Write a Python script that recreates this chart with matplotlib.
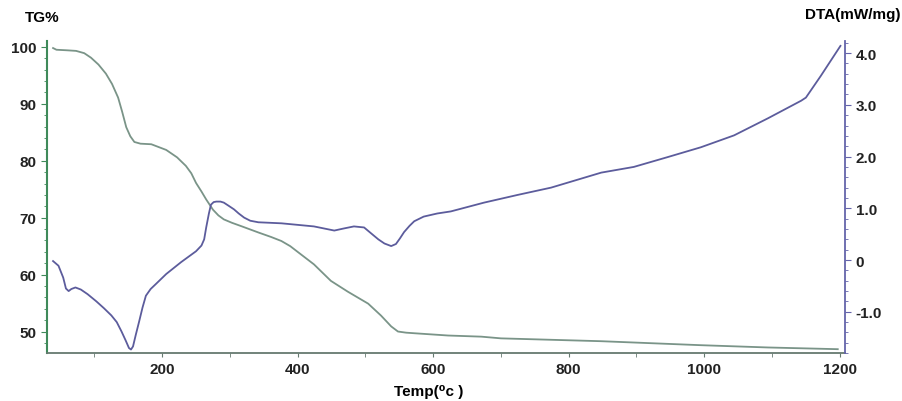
import numpy as np
import matplotlib.pyplot as plt
from matplotlib.ticker import MultipleLocator

# TG curve (temperature in C, mass %)
tg_temp = [39, 44, 60, 73, 85, 95, 106, 117, 126, 135, 141, 147, 153, 159, 168,
           184, 206, 222, 235, 243, 250, 258, 265, 275, 283, 291, 303, 317, 342,
           361, 376, 389, 401, 424, 449, 474, 504, 523, 538, 548, 560, 572, 622,
           671, 700, 848, 995, 1094, 1197]
tg_mass = [99.8, 99.5, 99.4, 99.3, 98.9, 98.1, 96.9, 95.3, 93.5, 91.1, 88.6, 85.9,
           84.3, 83.3, 83.0, 82.9, 81.9, 80.6, 79.1, 77.8, 76.1, 74.6, 73.2, 71.4,
           70.4, 69.7, 69.1, 68.5, 67.4, 66.6, 65.9, 65.0, 63.9, 61.8, 58.9, 57.0,
           54.9, 52.8, 50.9, 50.0, 49.8, 49.7, 49.3, 49.1, 48.8, 48.3, 47.6, 47.2,
           46.9]

# DTA curve (temperature in C, mW/mg)
dta_temp = [39, 47, 54, 58, 62, 66, 72, 80, 90, 103, 114, 125, 133, 140, 146, 151,
            154, 157, 161, 166, 171, 176, 183, 191, 206, 228, 250, 258, 262, 265,
            269, 272, 276, 280, 286, 291, 298, 306, 313, 321, 330, 342, 376, 424,
            454, 468, 483, 498, 508, 519, 528, 538, 545, 551, 557, 565, 572, 586,
            606, 626, 675, 725, 774, 848, 896, 946, 995, 1044, 1094, 1143, 1150,
            1172, 1201]
dta_val = [-0.02, -0.11, -0.34, -0.55, -0.6, -0.56, -0.53, -0.57, -0.66, -0.80,
           -0.93, -1.07, -1.2, -1.38, -1.55, -1.70, -1.73, -1.67, -1.45, -1.19,
           -0.92, -0.69, -0.56, -0.46, -0.27, -0.04, 0.17, 0.28, 0.40, 0.63, 0.90,
           1.07, 1.12, 1.13, 1.13, 1.11, 1.05, 0.98, 0.9, 0.82, 0.76, 0.73, 0.71,
           0.65, 0.57, 0.61, 0.65, 0.63, 0.52, 0.40, 0.32, 0.27, 0.31, 0.42, 0.54,
           0.66, 0.75, 0.84, 0.9, 0.94, 1.11, 1.26, 1.40, 1.69, 1.80, 1.99, 2.18,
           2.41, 2.74, 3.08, 3.14, 3.56, 4.14]

x_ticks = [200, 400, 600, 800, 1000, 1200]
tg_ticks = [50, 60, 70, 80, 90, 100]
dta_ticks = [-1.0, 0, 1.0, 2.0, 3.0, 4.0]
dta_tick_labels = ['-1.0', '0', '1.0', '2.0', '3.0', '4.0']

plt.rcParams['font.family'] = ['Liberation Sans', 'DejaVu Sans']

fig = plt.figure(figsize=(9.03, 4.02), dpi=100)
ax = fig.add_axes([0.052, 0.119, 0.884, 0.776])
ax2 = ax.twinx()

green = '#3f8a5a'
blue = '#6464aa'

ax.plot(tg_temp, tg_mass, color='#7a9488', lw=1.3)
ax2.plot(dta_temp, dta_val, color='#5c5c9c', lw=1.3)

ax.set_xlim(30, 1208)
ax.set_ylim(46.2, 101)
ax2.set_ylim(-1.8, 4.23)

ax.set_xticks(x_ticks)
ax.xaxis.set_minor_locator(MultipleLocator(100))
ax.set_yticks(tg_ticks)
ax.yaxis.set_minor_locator(MultipleLocator(2))
ax2.set_yticks(dta_ticks)
ax2.set_yticklabels(dta_tick_labels)
ax2.yaxis.set_minor_locator(MultipleLocator(0.2))

for a in (ax, ax2):
    a.spines['top'].set_visible(False)
    a.tick_params(labelsize=11)
    for lab in a.get_xticklabels() + a.get_yticklabels():
        lab.set_fontweight('bold')
        lab.set_color('#222222')

ax.spines['left'].set_color(green)
ax.spines['left'].set_linewidth(1.5)
ax.spines['bottom'].set_color('#667a70')
ax.spines['bottom'].set_linewidth(1.3)
ax.spines['right'].set_visible(False)
ax2.spines['left'].set_visible(False)
ax2.spines['bottom'].set_visible(False)
ax2.spines['right'].set_color(blue)
ax2.spines['right'].set_linewidth(1.3)

ax.tick_params(axis='y', which='major', length=4, color=green)
ax.tick_params(axis='y', which='minor', length=2, color=green)
ax.tick_params(axis='x', which='both', length=3, color='#667a70')
ax2.tick_params(axis='y', which='major', length=4, color=blue)
ax2.tick_params(axis='y', which='minor', length=2, color=blue)

fig.text(0.028, 0.955, 'TG%', fontsize=11, fontweight='bold', ha='left', va='center')
fig.text(0.997, 0.962, 'DTA(mW/mg)', fontsize=11, fontweight='bold', ha='right', va='center')
fig.text(0.475, 0.025, 'Temp(\u2070c )', fontsize=11, fontweight='bold', ha='center', va='center')

fig.savefig('out.png', dpi=100)
